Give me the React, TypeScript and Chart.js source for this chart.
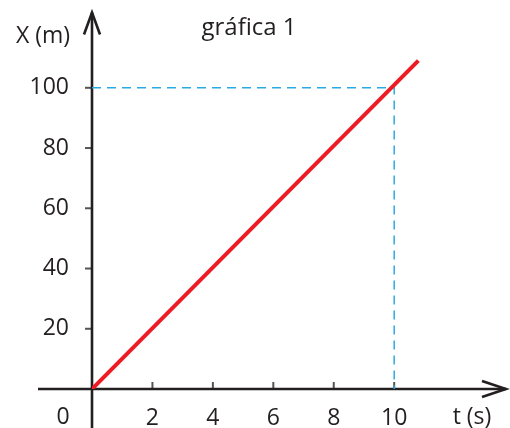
import React, { useEffect, useRef } from "react";
import { Chart, registerables } from "chart.js";

Chart.register(...registerables);

const lineT = [0, 10.8];
const lineX = [0, 109];
const guideT = [0, 10, 10];
const guideX = [100, 100, 0];
const xTickLabels = [2, 4, 6, 8, 10];
const yTickLabels = [20, 40, 60, 80, 100];
const title = "gráfica 1";
const yAxisTitle = "X (m)";
const xAxisTitle = "t (s)";
const originLabel = "0";

const INK = "#231f20";
const FONT = "'Open Sans', sans-serif";

const axesPlugin = {
  id: "customAxes",
  beforeDatasetsDraw(chart: any) {
    const { ctx, chartArea, scales } = chart;
    const xs = scales.x;
    const ys = scales.y;
    const x0 = xs.getPixelForValue(0);
    const y0 = ys.getPixelForValue(0);
    ctx.save();
    ctx.strokeStyle = "#555";
    ctx.lineWidth = 2;
    yTickLabels.forEach((v) => {
      const y = ys.getPixelForValue(v);
      ctx.beginPath();
      ctx.moveTo(x0 - 7, y);
      ctx.lineTo(x0, y);
      ctx.stroke();
    });
    xTickLabels.forEach((v) => {
      const x = xs.getPixelForValue(v);
      ctx.beginPath();
      ctx.moveTo(x, y0 - 7);
      ctx.lineTo(x, y0);
      ctx.stroke();
    });
    ctx.strokeStyle = INK;
    ctx.lineWidth = 2.6;
    ctx.lineCap = "butt";
    ctx.beginPath();
    ctx.moveTo(38, y0);
    ctx.lineTo(chartArea.right, y0);
    ctx.moveTo(x0, chart.height);
    ctx.lineTo(x0, chartArea.top);
    ctx.stroke();
    ctx.lineJoin = "miter";
    ctx.beginPath();
    ctx.moveTo(x0 - 8, chartArea.top + 22);
    ctx.lineTo(x0, chartArea.top);
    ctx.lineTo(x0 + 8, chartArea.top + 22);
    ctx.moveTo(chartArea.right - 24, y0 - 8);
    ctx.lineTo(chartArea.right, y0);
    ctx.lineTo(chartArea.right - 24, y0 + 8);
    ctx.stroke();
    ctx.restore();
  },
  afterDraw(chart: any) {
    const { ctx } = chart;
    ctx.save();
    ctx.fillStyle = INK;
    ctx.textAlign = "center";
    ctx.textBaseline = "alphabetic";
    ctx.font = `24px ${FONT}`;
    ctx.fillText(title, 249, 35);
    ctx.font = `23px ${FONT}`;
    ctx.fillText(yAxisTitle, 43, 43);
    ctx.fillText(xAxisTitle, 472, 424);
    ctx.fillText(originLabel, 63, 424);
    ctx.restore();
  },
};

const noPad = (s: any) => {
  s.paddingTop = 0;
  s.paddingBottom = 0;
  s.paddingLeft = 0;
  s.paddingRight = 0;
};

export default function App() {
  const ref = useRef<HTMLCanvasElement>(null);
  useEffect(() => {
    if (!ref.current) return;
    const chart = new Chart(ref.current, {
      type: "scatter",
      data: {
        datasets: [
          {
            data: lineT.map((t, i) => ({ x: t, y: lineX[i] })),
            showLine: true,
            borderColor: "#ed1c24",
            borderWidth: 4,
            pointRadius: 0,
            borderCapStyle: "butt",
          },
          {
            data: guideT.map((t, i) => ({ x: t, y: guideX[i] })),
            showLine: true,
            borderColor: "#29abe2",
            borderWidth: 1.5,
            borderDash: [9, 6],
            pointRadius: 0,
          },
        ],
      },
      options: {
        animation: false,
        responsive: false,
        maintainAspectRatio: false,
        layout: { padding: { top: 12.5, right: 4, left: 0, bottom: 0 } },
        plugins: { legend: { display: false }, tooltip: { enabled: false }, title: { display: false } },
        scales: {
          x: {
            type: "linear",
            min: 0,
            max: 13.7,
            grid: { display: false, drawTicks: false },
            border: { display: false },
            afterFit: (s: any) => {
              s.height = 39;
              noPad(s);
            },
            ticks: {
              stepSize: 2,
              padding: 16,
              color: INK,
              font: { family: FONT, size: 23 },
              autoSkip: false,
              maxRotation: 0,
              callback: (v: any) => (xTickLabels.includes(Number(v)) ? String(v) : ""),
            },
          },
          y: {
            type: "linear",
            min: 0,
            max: 125,
            grid: { display: false, drawTicks: false },
            border: { display: false },
            afterFit: (s: any) => {
              s.width = 92;
              noPad(s);
            },
            ticks: {
              stepSize: 20,
              padding: 23,
              color: INK,
              font: { family: FONT, size: 23 },
              autoSkip: false,
              callback: (v: any) => (yTickLabels.includes(Number(v)) ? String(v) : ""),
            },
          },
        },
      },
      plugins: [axesPlugin],
    } as any);
    return () => chart.destroy();
  }, []);
  return (
    <div style={{ position: "fixed", left: 0, top: 0, width: 510, height: 428, background: "#fff" }}>
      <canvas ref={ref} width={510} height={428} style={{ display: "block", width: 510, height: 428 }} />
    </div>
  );
}
